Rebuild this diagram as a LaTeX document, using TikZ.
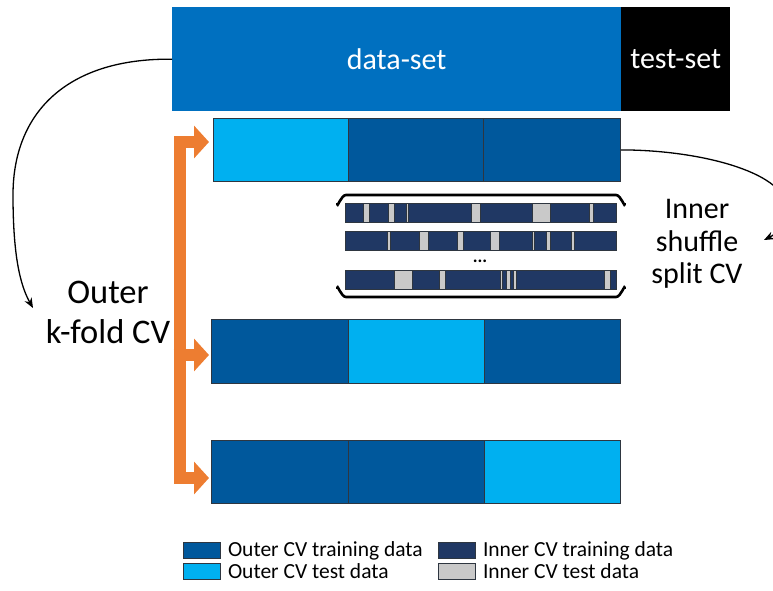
\documentclass[tikz,border=0pt]{standalone}
\usepackage{fontspec}
\setmainfont{Carlito}
\usetikzlibrary{arrows.meta}

\definecolor{dsblue}{HTML}{0070C0}
\definecolor{trainblue}{HTML}{00589C}
\definecolor{testcyan}{HTML}{00B0F0}
\definecolor{innernavy}{HTML}{203864}
\definecolor{innergrey}{HTML}{C9C9C9}
\definecolor{arroworange}{HTML}{ED7D31}
\definecolor{edgegrey}{HTML}{2E3640}

\tikzset{orangetip/.tip={Triangle[length=15pt,width=32pt]}}

\begin{document}
\begin{tikzpicture}[x=1pt,y=-1pt,
  block/.style={rectangle, inner sep=0pt, anchor=north west},
  size/.style 2 args={minimum width=#1pt, minimum height=#2pt},
  train/.style={block, fill=trainblue, draw=edgegrey, line width=0.8pt},
  testpart/.style={block, fill=testcyan, draw=edgegrey, line width=0.8pt},
  innerbar/.style={block, fill=innernavy, draw=edgegrey, line width=0.7pt, size={271}{19}},
  innertest/.style={fill=innergrey, draw=edgegrey, line width=0.6pt},
  curvearrow/.style={draw=black, line width=1.3pt, -{Stealth[length=10pt,width=8pt]}},
  orangearrow/.style={draw=arroworange, line width=12pt, line join=miter},
  bracketline/.style={draw=black, line width=2.6pt, line cap=round},
  legendbox/.style={block, size={37}{16}, draw=edgegrey, line width=0.8pt},
  legendtext/.style={anchor=west, inner sep=0pt, font=\fontsize{21.5}{23}\selectfont}
]
\useasboundingbox (0,0) rectangle (773,591);
\clip (0,0) rectangle (773,591);

% data-set and held-out test-set
\node[block, size={449}{104}, fill=dsblue] (ds) at (172,7) {};
\node[text=white, font=\fontsize{30}{32}\selectfont] (dslabel) at (ds.center) {data-set};
\node[block, size={109}{104}, fill=black] (ts) at (621,7) {};
\node[text=white, font=\fontsize{30}{32}\selectfont] (tslabel) at (ts.center) {test-set};

% outer fold 1
\node[testpart, size={135}{63}] (r1a) at (213,118) {};
\node[train, size={135}{63}] (r1b) at (348,118) {};
\node[train, size={137}{63}] (r1c) at (483,118) {};
% outer fold 2
\node[train, size={137}{64}] (r2a) at (211,319) {};
\node[testpart, size={136}{64}] (r2b) at (348,319) {};
\node[train, size={136}{64}] (r2c) at (484,319) {};
% outer fold 3
\node[train, size={137}{63}] (r3a) at (211,440) {};
\node[train, size={136}{63}] (r3b) at (348,440) {};
\node[testpart, size={136}{63}] (r3c) at (484,440) {};

% inner shuffle-split bars
\node[innerbar] (ib1) at (345,203) {};
\foreach \a/\b in {363.3/369.3, 388.7/394.3, 406/408.7, 471.7/480, 532.3/550, 589.7/593.3}
  \filldraw[innertest] (\a,203) rectangle (\b,222);
\node[innerbar] (ib2) at (345,231) {};
\foreach \a/\b in {387/390, 419.3/428.3, 457.3/463, 490.3/499, 532/534.7, 546/550, 571.7/574.7}
  \filldraw[innertest] (\a,231) rectangle (\b,250);
\node[font=\bfseries\fontsize{18}{18}\selectfont, inner sep=0pt, anchor=base] (dots) at (480,262) {...};
\node[innerbar] (ib3) at (345,270) {};
\foreach \a/\b in {394/412.3, 439/445, 500/502.7, 506.7/510, 513.3/516.7, 604/610}
  \filldraw[innertest] (\a,270) rectangle (\b,289);

% bracket round the inner bars
\draw[bracketline] (337,204) to[out=-90,in=180] (346,195) -- (616,195) to[out=0,in=-90] (625,204);
\draw[bracketline] (337,288) to[out=90,in=180] (346,297) -- (616,297) to[out=0,in=90] (625,288);

% labels
\node[align=center, font=\fontsize{34.5}{40}\selectfont] (outerlbl) at (108,312) {Outer\\k-fold CV};
\node[align=center, font=\fontsize{30}{32.5}\selectfont] (innerlbl) at (697,244) {Inner\\shuffle\\split CV};

% orange fold arrows
\coordinate (otop) at (179.5,142);
\coordinate (omid) at (179.5,355);
\coordinate (obot) at (179.5,478);
\draw[orangearrow, {orangetip}-{orangetip}] ([xshift=-4pt]r1a.west |- otop) -- (otop) -- (obot) -- ([xshift=-2pt]r3a.west |- obot);
\draw[orangearrow, -{orangetip}] ([xshift=-6pt]omid) -- ([xshift=-2pt]r2a.west |- omid);

% curved connectors
\coordinate (leftend) at (33,308);
\draw[curvearrow] (ds.west) .. controls (70,58) and (13,110) .. (13,195)
  .. controls (13,255) and (20,285) .. (leftend);
\coordinate (rightend) at (764,240);
\draw[curvearrow] (r1c.east) .. controls (700,150) and (782,172) .. (786,205)
  .. controls (788,225) and (776,234) .. (rightend);

% legend
\node[legendbox, fill=trainblue] (lg1) at (183,542) {};
\node[legendtext] (lt1) at ([xshift=7pt]lg1.east) {Outer CV training data};
\node[legendbox, fill=testcyan] (lg2) at (183,563) {};
\node[legendtext] (lt2) at ([xshift=7pt]lg2.east) {Outer CV test data};
\node[legendbox, fill=innernavy] (lg3) at (438,542) {};
\node[legendtext] (lt3) at ([xshift=7pt]lg3.east) {Inner CV training data};
\node[legendbox, fill=innergrey] (lg4) at (438,563) {};
\node[legendtext] (lt4) at ([xshift=7pt]lg4.east) {Inner CV test data};
\end{tikzpicture}
\end{document}
